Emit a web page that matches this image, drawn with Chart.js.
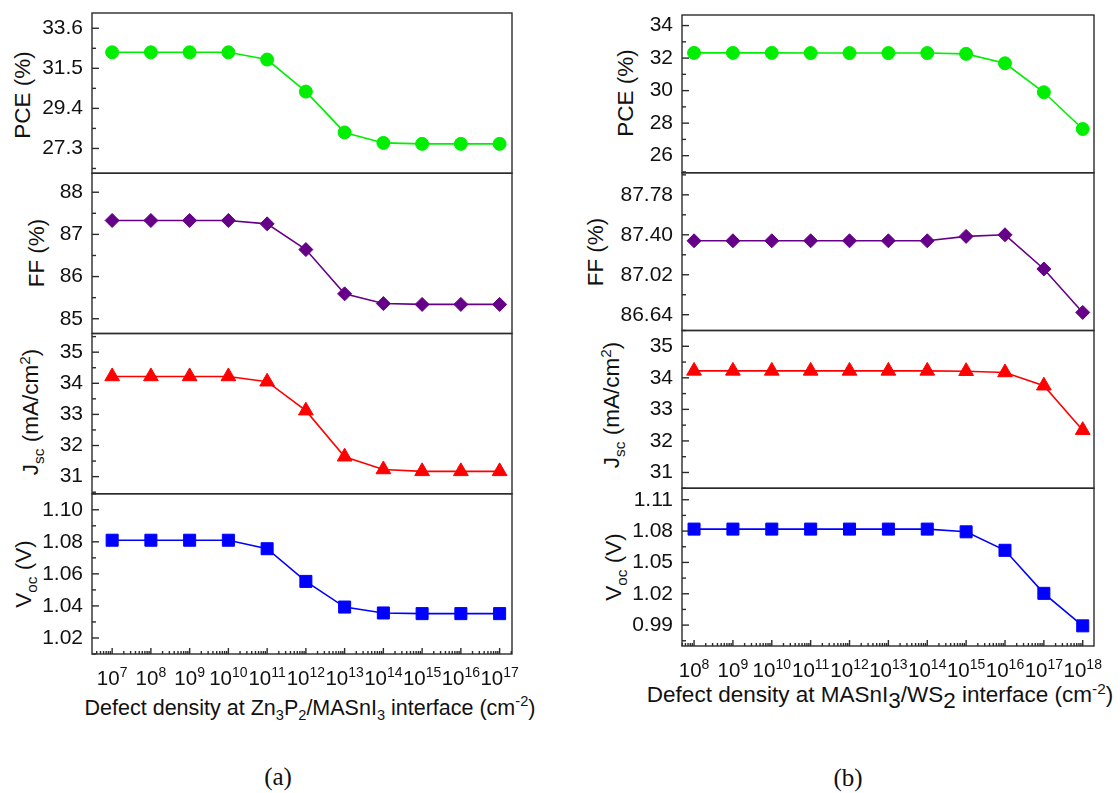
<!DOCTYPE html>
<html>
<head>
<meta charset="utf-8">
<script src="https://cdn.jsdelivr.net/npm/chart.js@4.4.0/dist/chart.umd.min.js"></script>
<style>
  body { margin: 0; background: #fff; width: 1120px; height: 793px; position: relative; overflow: hidden;
         font-family: "Liberation Sans", Arial, sans-serif; color: #111; }
  canvas { position: absolute; }
  .ytitle { position: absolute; white-space: nowrap; font-size: 22.5px; transform: translate(-50%, -50%) rotate(-90deg); }
  .xtitle { position: absolute; white-space: nowrap; font-size: 21.5px; transform: translate(-50%, -50%); }
  .tag { position: absolute; font-family: "Liberation Serif", "Times New Roman", serif; font-size: 25px; transform: translate(-50%, -50%); }
  sub, sup { font-size: 68%; line-height: 0; }
  .bigsub { position: relative; top: 6px; font-size: 100%; }
</style>
</head>
<body>

<div class="ytitle" style="left:23px; top:95px;">PCE (%)</div>
<div class="ytitle" style="left:37px; top:253px;">FF (%)</div>
<div class="ytitle" style="left:31px; top:412px;">J<sub>sc</sub> (mA/cm<sup>2</sup>)</div>
<div class="ytitle" style="left:24px; top:574px;">V<sub>oc</sub> (V)</div>
<div class="xtitle" style="left:310px; top:708px;">Defect density at Zn<sub>3</sub>P<sub>2</sub>/MASnI<sub>3</sub> interface (cm<sup>-2</sup>)</div>
<div class="tag" style="left:278px; top:777px;">(a)</div>

<div class="ytitle" style="left:626px; top:93px;">PCE (%)</div>
<div class="ytitle" style="left:596px; top:252px;">FF (%)</div>
<div class="ytitle" style="left:612px; top:405px;">J<sub>sc</sub> (mA/cm<sup>2</sup>)</div>
<div class="ytitle" style="left:614px; top:567px;">V<sub>oc</sub> (V)</div>
<div class="xtitle" style="left:880px; top:695px; font-size:22.5px;">Defect density at MASnI<span class="bigsub">3</span>/WS<span class="bigsub">2</span> interface (cm<sup>-2</sup>)</div>
<div class="tag" style="left:848px; top:778px;">(b)</div>

<script>
// ---- data (a): Zn3P2/MASnI3 interface ----
const densityA = [1e7, 1e8, 1e9, 1e10, 1e11, 1e12, 1e13, 1e14, 1e15, 1e16, 1e17];
const pceA = [32.34, 32.34, 32.34, 32.34, 31.96, 30.28, 28.14, 27.59, 27.54, 27.54, 27.54];
const ffA  = [87.33, 87.33, 87.33, 87.33, 87.25, 86.64, 85.59, 85.36, 85.34, 85.34, 85.34];
const jscA = [34.22, 34.22, 34.22, 34.22, 34.05, 33.12, 31.64, 31.23, 31.17, 31.17, 31.17];
const vocA = [1.081, 1.081, 1.081, 1.081, 1.0757, 1.0553, 1.0393, 1.0356, 1.0352, 1.0352, 1.0352];

// ---- data (b): MASnI3/WS2 interface ----
const densityB = [1e8, 1e9, 1e10, 1e11, 1e12, 1e13, 1e14, 1e15, 1e16, 1e17, 1e18];
const pceB = [32.32, 32.32, 32.32, 32.31, 32.31, 32.31, 32.31, 32.26, 31.68, 29.9, 27.64];
const ffB  = [87.343, 87.343, 87.343, 87.343, 87.343, 87.343, 87.343, 87.385, 87.40, 87.075, 86.662];
const jscB = [34.22, 34.22, 34.22, 34.22, 34.22, 34.22, 34.22, 34.21, 34.17, 33.75, 32.34];
const vocB = [1.0819, 1.0819, 1.0819, 1.0819, 1.0819, 1.0819, 1.0819, 1.0793, 1.0616, 1.0204, 0.9893];

// ---- tick labels ----
const pceTicksA = [27.3, 29.4, 31.5, 33.6];
const ffTicksA  = [85, 86, 87, 88];
const jscTicksA = [31, 32, 33, 34, 35];
const vocTicksA = [1.02, 1.04, 1.06, 1.08, 1.10];
const pceTicksB = [26, 28, 30, 32, 34];
const ffTicksB  = [86.64, 87.02, 87.40, 87.78];
const jscTicksB = [31, 32, 33, 34, 35];
const vocTicksB = [0.99, 1.02, 1.05, 1.08, 1.11];

const FONT = "'Liberation Sans', Arial, sans-serif";

// box, inward ticks, minor ticks and the 10^n labels
const framePlugin = {
  id: 'frame',
  afterDraw(chart) {
    const { ctx, chartArea: a, scales } = chart;
    const o = chart.options.plugins.frame;
    const x = scales.x, y = scales.y;
    ctx.save();
    ctx.strokeStyle = '#2b2b2b';
    ctx.lineWidth = 1.4;
    const seg = (x1, y1, x2, y2) => { ctx.beginPath(); ctx.moveTo(x1, y1); ctx.lineTo(x2, y2); ctx.stroke(); };

    const majors = o.yTicks;
    const step = majors[1] - majors[0];
    majors.forEach(v => { const p = y.getPixelForValue(v); seg(a.left, p, a.left + 7, p); });
    for (let v = majors[0] - step / 2; v <= y.max; v += step) {
      if (v < y.min) continue;
      const p = y.getPixelForValue(v);
      seg(a.left, p, a.left + 4, p);
    }

    if (o.bottom) {
      const lo = Math.floor(Math.log10(x.min)), hi = Math.ceil(Math.log10(x.max));
      for (let n = lo; n <= hi; n++) {
        for (let k = 2; k <= 9; k++) {
          const v = k * Math.pow(10, n);
          if (v < x.min || v > x.max) continue;
          const p = x.getPixelForValue(v);
          seg(p, a.bottom, p, a.bottom - 3);
        }
      }
      ctx.fillStyle = '#111';
      ctx.textAlign = 'left';
      ctx.textBaseline = 'alphabetic';
      o.xTicks.forEach(v => {
        const p = x.getPixelForValue(v);
        seg(p, a.bottom, p, a.bottom - 6);
        const e = String(Math.round(Math.log10(v)));
        ctx.font = '20.5px ' + FONT;
        const w1 = ctx.measureText('10').width;
        ctx.font = '14px ' + FONT;
        const w2 = ctx.measureText(e).width;
        const x0 = p - (w1 + w2) / 2;
        ctx.font = '20.5px ' + FONT;
        ctx.fillText('10', x0, a.bottom + 31);
        ctx.font = '14px ' + FONT;
        ctx.fillText(e, x0 + w1, a.bottom + 23);
      });
    }
    ctx.strokeRect(a.left, a.top, a.right - a.left, a.bottom - a.top);
    ctx.restore();
  }
};

const panelA = { left: 92, right: 512, top: 13, bottom: 654, xMin: Math.pow(10, 6.48), xMax: Math.pow(10, 17.32), xs: densityA };
const panelB = { left: 682, right: 1094, top: 15, bottom: 646, xMin: Math.pow(10, 7.69), xMax: Math.pow(10, 18.29), xs: densityB };

const YW = 90, PADR = 24, XH = 50;

function makeRow(panel, row, ys, style, yTicks, dec, yMin, yMax) {
  const rowH = (panel.bottom - panel.top) / 4;
  const rowTop = panel.top + row * rowH;
  const isBottom = row === 3;
  const cTop = Math.floor(rowTop) - 14;
  const padTop = rowTop - cTop;
  const cH = Math.ceil(padTop + rowH + (isBottom ? XH : 14));
  const padBottom = isBottom ? cH - padTop - rowH - XH : cH - padTop - rowH;
  const cW = YW + (panel.right - panel.left) + PADR;

  const canvas = document.createElement('canvas');
  canvas.width = cW;
  canvas.height = cH;
  canvas.style.left = (panel.left - YW) + 'px';
  canvas.style.top = cTop + 'px';
  canvas.style.width = cW + 'px';
  canvas.style.height = cH + 'px';
  document.body.appendChild(canvas);

  new Chart(canvas.getContext('2d'), {
    type: 'line',
    data: {
      datasets: [{
        data: panel.xs.map((x, i) => ({ x: x, y: ys[i] })),
        borderColor: style.color,
        backgroundColor: style.color,
        pointBorderColor: style.color,
        pointBackgroundColor: style.color,
        borderWidth: 1.6,
        pointStyle: style.shape,
        pointRadius: style.r,
        pointBorderWidth: 1,
        tension: 0,
        clip: false
      }]
    },
    options: {
      responsive: false,
      animation: false,
      events: [],
      layout: { padding: { top: padTop, bottom: padBottom, left: 0, right: PADR } },
      plugins: {
        legend: { display: false },
        tooltip: { enabled: false },
        frame: { yTicks: yTicks, xTicks: panel.xs, bottom: isBottom }
      },
      scales: {
        x: {
          type: 'logarithmic',
          display: isBottom,
          min: panel.xMin,
          max: panel.xMax,
          afterBuildTicks: s => { s.ticks = panel.xs.map(v => ({ value: v })); },
          afterFit: s => { s.height = isBottom ? XH : 0; s.paddingLeft = 0; s.paddingRight = 0; },
          grid: { display: false, drawTicks: false },
          border: { display: false },
          ticks: { display: false }
        },
        y: {
          type: 'linear',
          min: yMin,
          max: yMax,
          afterBuildTicks: s => { s.ticks = yTicks.map(v => ({ value: v })); },
          afterFit: s => { s.width = YW; s.paddingTop = 0; s.paddingBottom = 0; },
          grid: { display: false, drawTicks: false },
          border: { display: false },
          ticks: {
            autoSkip: false, padding: 9,
            color: '#111', font: { family: FONT, size: 21 },
            callback: v => Number(v).toFixed(dec)
          }
        }
      }
    },
    plugins: [framePlugin]
  });
}

const GREEN  = { color: '#00ee00', shape: 'circle',   r: 6.5 };
const PURPLE = { color: '#660088', shape: 'rectRot',  r: 7 };
const RED    = { color: '#ff0000', shape: 'triangle', r: 8.5 };
const BLUE   = { color: '#0000ff', shape: 'rect',     r: 8.5 };

makeRow(panelA, 0, pceA, GREEN,  pceTicksA, 1, 26.0, 34.4);
makeRow(panelA, 1, ffA,  PURPLE, ffTicksA,  0, 84.65, 88.45);
makeRow(panelA, 2, jscA, RED,    jscTicksA, 0, 30.45, 35.6);
makeRow(panelA, 3, vocA, BLUE,   vocTicksA, 2, 1.01, 1.11);

makeRow(panelB, 0, pceB, GREEN,  pceTicksB, 0, 24.95, 34.65);
makeRow(panelB, 1, ffB,  PURPLE, ffTicksB,  2, 86.49, 87.99);
makeRow(panelB, 2, jscB, RED,    jscTicksB, 0, 30.5, 35.5);
makeRow(panelB, 3, vocB, BLUE,   vocTicksB, 2, 0.97, 1.121);
</script>
</body>
</html>
